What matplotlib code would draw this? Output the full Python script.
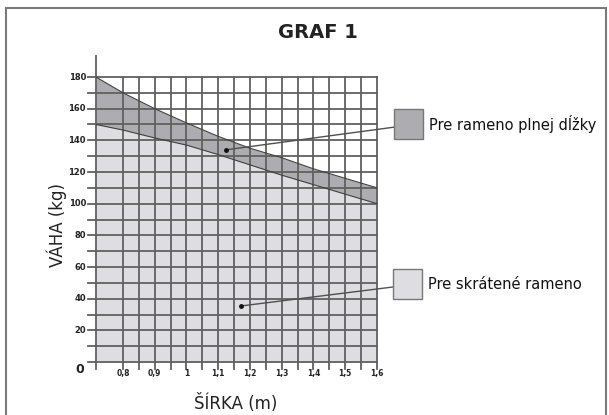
import matplotlib
matplotlib.use("Agg")
import matplotlib.pyplot as plt
from matplotlib.patches import Rectangle
import numpy as np

# sirka (m) and vaha (kg)
sirka = [0.715, 0.8, 0.85, 0.9, 1.0, 1.1, 1.2, 1.3, 1.4, 1.5, 1.6]
plna_dlzka = [180, 170, 165, 160, 151, 142.5, 135, 129, 122, 116, 110]
skratene = [150, 146.5, 144, 141.5, 137, 131, 124.5, 118, 112, 106, 100]

x_ticks = [0.8, 0.9, 1.0, 1.1, 1.2, 1.3, 1.4, 1.5, 1.6]
x_labels = ["0,8", "0,9", "1", "1,1", "1,2", "1,3", "1,4", "1,5", "1,6"]
y_ticks = [20, 40, 60, 80, 100, 120, 140, 160, 180]
legend_labels = ["Pre rameno plnej dĺžky", "Pre skrátené rameno"]

W, H = 609, 415
fig = plt.figure(figsize=(W / 100, H / 100), dpi=100)
ax = fig.add_axes([96 / W, 1 - 362 / H, (377 - 96) / W, (362 - 77) / H])
x0, x1 = sirka[0], sirka[-1]
ax.set_xlim(x0, x1)
ax.set_ylim(0, 180)
ax.axis("off")

dark = "#adadb1"
light = "#dddde2"
grid = "#606060"

ax.fill_between(sirka, 0, skratene, color=light, lw=0, zorder=1)
ax.fill_between(sirka, skratene, plna_dlzka, color=dark, lw=0, zorder=1)
ax.plot(sirka, plna_dlzka, color="#404040", lw=0.8, zorder=3)
ax.plot(sirka, skratene, color="#404040", lw=0.8, zorder=3)

# grid: horizontal every 10 kg (sticking out left), vertical every 0.05 m
px_x = (x1 - x0) / (377 - 96)
px_y = 180 / (362 - 77)
for yv in range(0, 181, 10):
    ax.plot([x0 - 8 * px_x, x1], [yv, yv], color=grid, lw=1.3, zorder=2, clip_on=False)
for xv in np.arange(0.8, 1.6001, 0.05):
    ax.plot([xv, xv], [-7 * px_y, 180], color=grid, lw=1.3, zorder=2, clip_on=False)
ax.plot([x0, x0], [-7 * px_y, 180 + 21 * px_y], color=grid, lw=1.3, zorder=2, clip_on=False)

for xv, lab in zip(x_ticks, x_labels):
    ax.text(xv, -11 * px_y, lab, ha="center", va="center", fontsize=5.5,
            fontweight="bold", color="#222222")
for yv in y_ticks:
    ax.text(x0 - 10 * px_x, yv, str(yv), ha="right", va="center", fontsize=6,
            fontweight="bold", color="#222222")
ax.text(x0 - 16 * px_x, -7 * px_y, "0", ha="center", va="center", fontsize=9,
        fontweight="bold", color="#222222")

fig.text(318 / W, 1 - 33 / H, "GRAF 1", ha="center", va="center",
         fontsize=14, fontweight="bold", color="#222222")
fig.text(57 / W, 1 - 225 / H, "VÁHA (kg)", ha="center", va="center",
         rotation=90, fontsize=12, color="#222222")
fig.text(236 / W, 1 - 403 / H, "ŠÍRKA (m)", ha="center", va="center",
         fontsize=12, color="#222222")

# legend boxes with leader lines
boxes = [(394, 109, dark), (393, 269, light)]
dots = [(1.124, 134), (1.172, 35.4)]
for (bx, by, col), lab, (dx, dy) in zip(boxes, legend_labels, dots):
    fig.patches.append(Rectangle((bx / W, 1 - (by + 30) / H), 29 / W, 30 / H,
                                 transform=fig.transFigure, facecolor=col,
                                 edgecolor="#777777", lw=1))
    fig.text((bx + 35) / W, 1 - (by + 15) / H, lab, ha="left", va="center",
             fontsize=10.5, color="#111111")
    ex = x0 + (bx + 16 - 96) * px_x
    ey = (362 - (by + 16)) * px_y
    ax.plot([dx, ex], [dy, ey], color="#505050", lw=1, zorder=5, clip_on=False)
    ax.plot(dx, dy, "o", color="#111111", ms=2.5, zorder=6)

# outer frame
fig.patches.append(Rectangle((6 / W, -0.1), 600 / W, 1 - 8 / H + 0.1,
                             transform=fig.transFigure, fill=False,
                             edgecolor="#7a7a7a", lw=1.5))

fig.savefig("out.png", dpi=100)
